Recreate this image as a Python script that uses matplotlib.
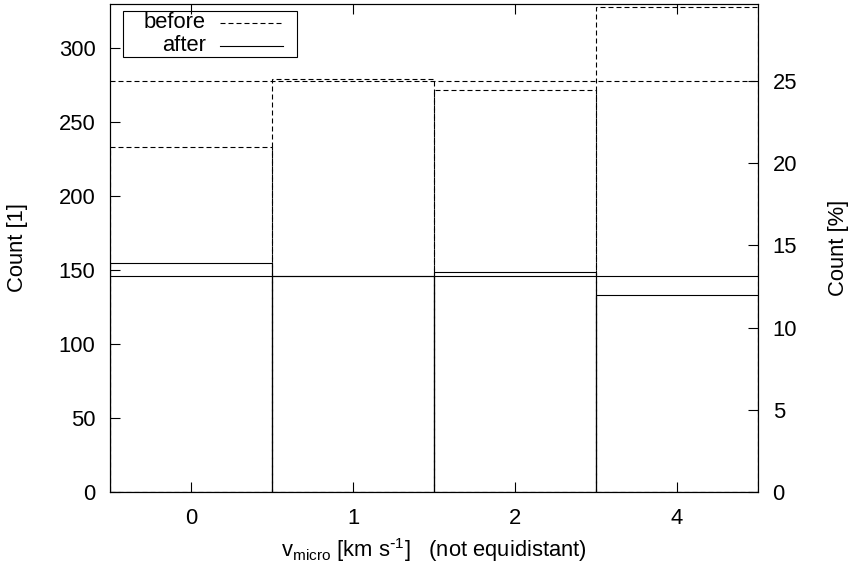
import matplotlib
matplotlib.use("Agg")
import matplotlib.pyplot as plt
from matplotlib.patches import Rectangle
from matplotlib.lines import Line2D

plt.rcParams['font.family'] = ['Liberation Sans', 'DejaVu Sans']
plt.rcParams['mathtext.default'] = 'regular'

# v_micro bins (not equidistant) and counts per bin
categories = ['0', '1', '2', '4']
before_counts = [233, 279, 272, 328]
after_counts = [155, 146, 149, 133]

y_max = 330
left_ticks = [0, 50, 100, 150, 200, 250, 300]
right_ticks = [0, 5, 10, 15, 20, 25]

FS = 15.8
LW = 0.8
DASH = (0, (4.5, 2.7))

fig = plt.figure(figsize=(8.57, 5.69), dpi=100)
ax = fig.add_axes([0.1284, 0.1353, 0.7561, 0.8577])

n = len(categories)
positions = list(range(n))

# histogram boxes: one unit-wide rectangle per bin
for i, v in enumerate(before_counts):
    ax.add_patch(Rectangle((positions[i] - 0.5, 0), 1.0, v, fill=False,
                           edgecolor='black', linewidth=LW, linestyle=DASH,
                           zorder=2))
for i, v in enumerate(after_counts):
    ax.add_patch(Rectangle((positions[i] - 0.5, 0), 1.0, v, fill=False,
                           edgecolor='black', linewidth=LW, linestyle='-',
                           zorder=3))

# equal-share reference levels (25 % per bin)
before_mean = sum(before_counts) / n
after_mean = sum(after_counts) / n
ax.axhline(before_mean, color='black', linewidth=LW, linestyle=DASH, zorder=2)
ax.axhline(after_mean, color='black', linewidth=LW, linestyle='-', zorder=3)

ax.set_xlim(-0.5, n - 0.5)
ax.set_ylim(0, y_max)
ax.set_xticks(positions)
ax.set_xticklabels(categories)
ax.set_yticks(left_ticks)
ax.tick_params(axis='x', direction='in', top=True, bottom=True, length=7,
               width=LW, labelsize=FS, pad=11.5)
ax.tick_params(axis='y', direction='in', left=True, right=False, length=7,
               width=LW, labelsize=FS, pad=10.5)
for s in ax.spines.values():
    s.set_linewidth(LW)

ax.set_ylabel('Count [1]', fontsize=FS, labelpad=22)
ax.set_xlabel(r'v$_{micro}$ [km s$^{\text{-}1}$]   (not equidistant)',
              fontsize=FS, labelpad=5)

# percentage axis relative to the total of the "before" sample
total_before = sum(before_counts)
ax2 = ax.twinx()
ax2.set_ylim(0, y_max * 100.0 / total_before)
ax2.set_yticks(right_ticks)
ax2.tick_params(axis='y', direction='in', length=7, width=LW, labelsize=FS,
                pad=10.5)
for s in ax2.spines.values():
    s.set_linewidth(LW)
ax2.set_ylabel('Count [%]', fontsize=FS, labelpad=22)

# key box in the upper left corner
ax.add_patch(Rectangle((0.02, 0.891), 0.2686, 0.0947, transform=ax.transAxes,
                       fill=False, edgecolor='black', linewidth=LW, zorder=5))
rows = [('before', DASH, 0.9617), ('after', '-', 0.9146)]
for label, ls, yy in rows:
    ax.text(0.1475, yy, label, transform=ax.transAxes, ha='right',
            va='center', fontsize=FS, zorder=6)
    ax.add_line(Line2D([0.17, 0.2665], [yy, yy], transform=ax.transAxes,
                       color='black', linewidth=LW, linestyle=ls, zorder=6))

fig.savefig('out.png', dpi=100)
